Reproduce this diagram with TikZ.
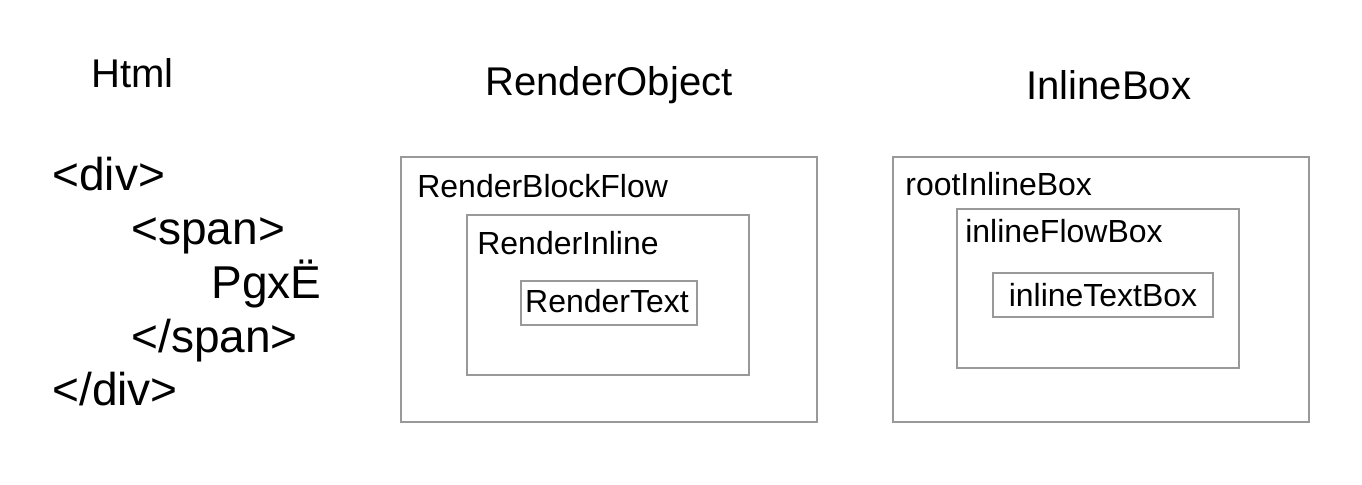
\documentclass[tikz,border=0pt]{standalone}
\usepackage{fontspec}
\setmainfont{Liberation Sans}
\usepackage{xcolor}
\usepackage{tikz}
\usetikzlibrary{positioning}
\definecolor{framegray}{HTML}{999999}

\begin{document}
\begin{tikzpicture}[x=0.02cm, y=-0.02cm,
  frame/.style={draw=framegray, line width=1.1pt},
  title/.style={anchor=base west, inner sep=0pt, font=\fontsize{22.8pt}{26pt}\selectfont},
  code/.style={anchor=base west, inner sep=0pt, font=\fontsize{26.2pt}{30pt}\selectfont},
  lbl/.style={anchor=base west, inner sep=0pt, font=\fontsize{18.2pt}{21pt}\selectfont}]
\useasboundingbox (0,0) rectangle (1362,484);
% column titles
\node[title] (html) at (91,87) {Html};
\node[title] (robj) at (485,95) {RenderObject};
\node[title] (ibox) at (1026,99) {InlineBox};
% html source
\node[code] (div) at (52,190) {<div>};
\node[code] (span) at (131,244) {<span>};
\node[code] (txt) at (211,298) {PgxË};
\node[code] (spanend) at (131,352) {</span>};
\node[code] (divend) at (52,405) {</div>};
% render tree
\draw[frame] (401,157) rectangle (817,422);
\draw[frame] (467,215) rectangle (749,375);
\draw[frame] (521,281) rectangle (697,325);
\node[lbl] (rbf) at (417,197) {RenderBlockFlow};
\node[lbl] (rin) at (477,254) {RenderInline};
\node[lbl, anchor=base] (rtx) at (607,312) {RenderText};
% inline boxes
\draw[frame] (893,157) rectangle (1309,422);
\draw[frame] (957,209) rectangle (1239,368);
\draw[frame] (993,273) rectangle (1213,317);
\node[lbl] (rib) at (905,195) {rootInlineBox};
\node[lbl] (ifb) at (965,242) {inlineFlowBox};
\node[lbl, anchor=base] (itb) at (1103,306) {inlineTextBox};
\end{tikzpicture}
\end{document}
